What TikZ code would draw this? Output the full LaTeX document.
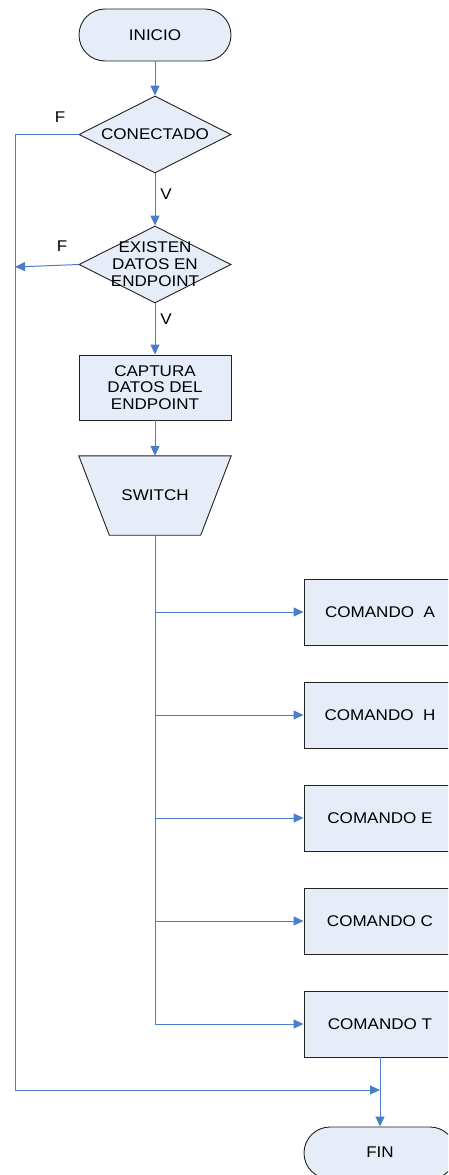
\documentclass[tikz,border=0pt]{standalone}
\usepackage{fontspec}
\setmainfont[FakeStretch=1.1]{Liberation Sans}
\usetikzlibrary{shapes.geometric,arrows.meta,positioning}
\definecolor{boxfill}{HTML}{E6EDF8}
\definecolor{lineblue}{HTML}{4A7EC8}
\definecolor{edge}{HTML}{222222}
\tikzset{
  shp/.style={draw=edge, fill=boxfill, line width=0.9pt, inner sep=0pt},
  term/.style={shp, rectangle, rounded corners=26pt, minimum width=152pt, minimum height=52pt},
  dia/.style={shp, diamond, minimum width=152pt, minimum height=77pt},
  proc/.style={shp, rectangle, minimum width=152pt, minimum height=65pt},
  cmd/.style={shp, rectangle, minimum width=160pt, minimum height=66pt},
  txt/.style={align=center, font=\fontsize{15.5}{16.8}\selectfont, inner sep=0pt},
  lab/.style={font=\fontsize{15.5}{16.8}\selectfont, inner sep=0pt},
  conn/.style={draw=lineblue, line width=1pt},
  arr/.style={conn, -{Triangle[length=10pt,width=9pt]}},
}
\begin{document}
\begin{tikzpicture}[x=1pt,y=-1pt]
\useasboundingbox (0,0) rectangle (448,1175);
\clip (0,0) rectangle (448,1175);
\fill[white] (0,0) rectangle (448,1175);

\node[term] (ini) at (155,35) {};
\node[txt] (tini) at (ini) {INICIO};
\node[dia] (d1) at (155,134.5) {};
\node[txt] (td1) at (d1) {CONECTADO};
\node[dia] (d2) at (155,264.5) {};
\node[txt] (td2) at (155,264) {EXISTEN\\DATOS EN\\ENDPOINT};
\node[proc] (cap) at (155,387.5) {};
\node[txt] (tcap) at (cap) {CAPTURA\\DATOS DEL\\ENDPOINT};
\node[inner sep=0pt, minimum width=152pt, minimum height=79pt] (sw) at (155,495.5) {};
\draw[shp] (sw.north west) -- (sw.north east) -- ([xshift=-30.5pt]sw.south east) -- ([xshift=30.5pt]sw.south west) -- cycle;
\node[txt] (tsw) at (sw) {SWITCH};

\node[cmd] (ca) at (384,612) {};
\node[txt] (tca) at (380,612) {COMANDO\ \ A};
\node[cmd] (ch) at (384,715) {};
\node[txt] (tch) at (380,715) {COMANDO\ \ H};
\node[cmd] (ce) at (384,818) {};
\node[txt] (tce) at (380,818) {COMANDO E};
\node[cmd] (cc) at (384,921) {};
\node[txt] (tcc) at (380,921) {COMANDO C};
\node[cmd] (ct) at (384,1024) {};
\node[txt] (tct) at (380,1024) {COMANDO T};
\node[term] (fin) at (380,1153) {};
\node[txt] (tfin) at (380,1152) {FIN};

\node[lab] (f1) at (60,117) {F};
\node[lab] (v1) at (166,194) {V};
\node[lab] (f2) at (62,246) {F};
\node[lab] (v2) at (166,319) {V};

\coordinate (lt) at (15,134.5);
\coordinate (lm) at (15,267);
\coordinate (lb) at (15,1090);
\coordinate (jt) at (380,1090);
\coordinate (s1) at (155,612);
\coordinate (s2) at (155,715);
\coordinate (s3) at (155,818);
\coordinate (s4) at (155,921);
\coordinate (s5) at (155,1024);

\draw[arr] (ini.south) -- (d1.north);
\draw[arr] (d1.south) -- (d2.north);
\draw[arr] (d2.south) -- (cap.north);
\draw[arr] (cap.south) -- (sw.north);
\draw[conn] (sw.south) -- (s5);
\draw[arr] (s1) -- (ca.west);
\draw[arr] (s2) -- (ch.west);
\draw[arr] (s3) -- (ce.west);
\draw[arr] (s4) -- (cc.west);
\draw[arr] (s5) -- (ct.west);
\draw[conn] (d1.west) -- (lt) -- (lb);
\draw[arr] (lb) -- (jt);
\draw[arr] (d2.west) -- (lm);
\draw[arr] (ct.south -| jt) -- (fin.north -| jt);
\end{tikzpicture}
\end{document}
